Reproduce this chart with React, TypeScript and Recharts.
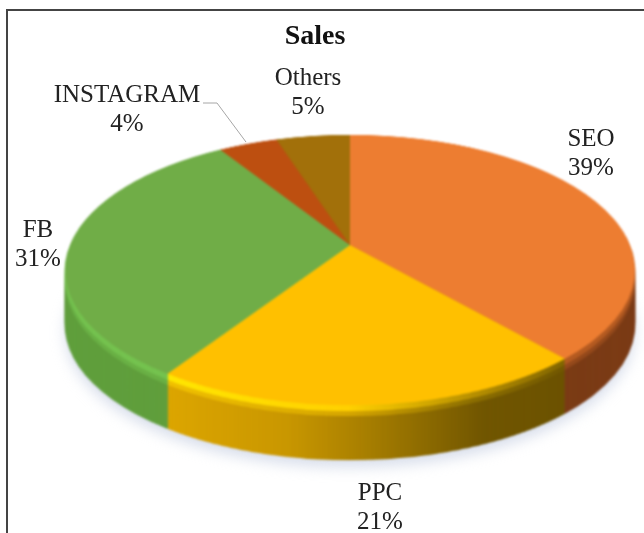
import { PieChart, Pie, Cell } from 'recharts'

const CATEGORIES = ['SEO', 'PPC', 'FB', 'INSTAGRAM', 'Others']
const VALUES = [38.5, 20.8, 31.7, 4, 5]
const PERCENT_LABELS = ['39%', '21%', '31%', '4%', '5%']
const TOP_COLORS = ['#ed7d31', '#ffc000', '#70ad47', '#bd4f10', '#a2700a']
const WALL_COLORS = ['#7a3a14', 'url(#ppcWall)', '#5f9e3b', '#7a3a14', '#6b4a00']
const RIM_COLORS = ['#b45a20', 'url(#ppcRim)', '#74c24e', '#b45a20', '#8a6400']
const MID_COLORS = ['#94481a', 'url(#ppcMid)', '#69b044', '#94481a', '#7a5600']

const LABEL_POS = [
  { x: 591, y: 137 },
  { x: 380, y: 491 },
  { x: 38, y: 228 },
  { x: 127, y: 93 },
  { x: 308, y: 76 },
]

const chartData = CATEGORIES.map((name, i) => ({ name, value: VALUES[i] }))

const SIZE = 600
const RADIUS = 280
const TILT = 'perspective(1339px) rotateX(62.2deg)'
const DEPTH = 55
const RIM = 6
const MID = 11

function Layer({ colors, offset, opacity }: { colors: string[]; offset: number; opacity?: number }) {
  return (
    <div
      style={{
        position: 'absolute',
        left: 50,
        top: -55,
        width: SIZE,
        height: SIZE,
        opacity,
        transform: `translateY(${offset}px) ${TILT}`,
      }}
    >
      <PieChart width={SIZE} height={SIZE} margin={{ top: 0, right: 0, bottom: 0, left: 0 }}>
        <Pie
          data={chartData}
          dataKey="value"
          cx="50%"
          cy="50%"
          outerRadius={RADIUS}
          startAngle={90}
          endAngle={-270}
          stroke="none"
          isAnimationActive={false}
        >
          {chartData.map((_, i) => (
            <Cell key={i} fill={colors[i]} />
          ))}
        </Pie>
      </PieChart>
    </div>
  )
}

export default function App() {
  const depths = Array.from({ length: DEPTH }, (_, i) => DEPTH - i)
  const wallFor = (d: number) => (d <= RIM ? RIM_COLORS : d <= MID ? MID_COLORS : WALL_COLORS)

  return (
    <div
      style={{
        position: 'absolute',
        left: 0,
        top: 0,
        width: 644,
        height: 533,
        overflow: 'hidden',
        background: '#fff',
        fontFamily: '"Liberation Serif", serif',
      }}
    >
      <svg width={0} height={0} style={{ position: 'absolute' }}>
        <defs>
          <linearGradient id="ppcWall" x1="0" y1="0" x2="1" y2="0">
            <stop offset="0" stopColor="#dca500" />
            <stop offset="0.3" stopColor="#c99700" />
            <stop offset="0.5" stopColor="#a67d00" />
            <stop offset="0.78" stopColor="#705500" />
            <stop offset="1" stopColor="#6b5100" />
          </linearGradient>
          <linearGradient id="ppcMid" x1="0" y1="0" x2="1" y2="0">
            <stop offset="0" stopColor="#f0c000" />
            <stop offset="0.45" stopColor="#d6a600" />
            <stop offset="0.75" stopColor="#8c6e00" />
            <stop offset="1" stopColor="#705600" />
          </linearGradient>
          <linearGradient id="ppcRim" x1="0" y1="0" x2="1" y2="0">
            <stop offset="0" stopColor="#ffe600" />
            <stop offset="0.45" stopColor="#ffd000" />
            <stop offset="0.75" stopColor="#b89000" />
            <stop offset="1" stopColor="#806400" />
          </linearGradient>
        </defs>
      </svg>

      <div style={{ position: 'absolute', inset: 0, filter: 'blur(7px)' }}>
        <Layer colors={CATEGORIES.map(() => '#c3cce0')} offset={DEPTH + 7} opacity={0.65} />
      </div>

      <div style={{ position: 'absolute', inset: 0, filter: 'blur(0.8px)' }}>
        {depths.map((d) => (
          <Layer key={d} colors={wallFor(d)} offset={d} />
        ))}
        <Layer colors={TOP_COLORS} offset={0} />
      </div>

      <div
        style={{
          position: 'absolute',
          left: 6,
          top: 9,
          width: 700,
          height: 600,
          border: '2px solid #444',
        }}
      />

      <svg width={644} height={533} style={{ position: 'absolute', left: 0, top: 0 }}>
        <polyline points="203,103 217,103 246,142" fill="none" stroke="#a6a6a6" strokeWidth={1} />
        <text x={315} y={34} textAnchor="middle" dominantBaseline="central" fontSize={28} fontWeight="bold" fill="#111">
          Sales
        </text>
        {CATEGORIES.map((name, i) => (
          <text key={name} textAnchor="middle" fontSize={25} fill="#222">
            <tspan x={LABEL_POS[i].x} y={LABEL_POS[i].y} dominantBaseline="central">
              {name}
            </tspan>
            <tspan x={LABEL_POS[i].x} y={LABEL_POS[i].y + 29} dominantBaseline="central">
              {PERCENT_LABELS[i]}
            </tspan>
          </text>
        ))}
      </svg>
    </div>
  )
}
